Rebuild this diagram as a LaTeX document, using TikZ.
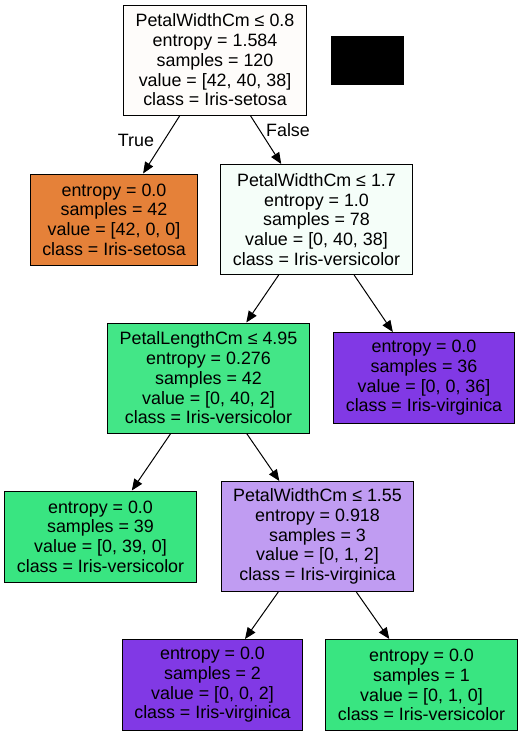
\documentclass[tikz,border=0pt]{standalone}
\usepackage{fontspec}
\setmainfont{Liberation Sans}
\usetikzlibrary{arrows.meta}
\definecolor{rootfill}{RGB}{254,252,250}
\definecolor{setosa}{RGB}{229,129,57}
\definecolor{versifaint}{RGB}{245,254,249}
\definecolor{versidark}{RGB}{67,230,135}
\definecolor{versicolor}{RGB}{57,229,129}
\definecolor{virgihalf}{RGB}{192,156,242}
\definecolor{virginica}{RGB}{129,57,229}
\begin{document}
\begin{tikzpicture}[x=0.75pt,y=-0.75pt,
        box/.style={draw,line width=0.75pt,align=center,inner xsep=9pt,inner ysep=0pt,
                font=\fontsize{13.4pt}{14.8pt}\selectfont},
        split/.style={box,minimum height=82.5pt},
        leaf/.style={box,minimum height=68.25pt},
        edge/.style={line width=0.75pt,-{Triangle[length=8.5pt,width=7pt]}},
        edgelabel/.style={font=\fontsize{13.4pt}{14.8pt}\selectfont}]
        \useasboundingbox (0,0) rectangle (523,736);
        \node[split,fill=rootfill] (root) at (215,60)
                {PetalWidthCm ≤ 0.8\\entropy = 1.584\\samples = 120\\value = [42, 40, 38]\\class = Iris-setosa};
        \node[leaf,fill=setosa] (setosaleaf) at (114,219.5)
                {entropy = 0.0\\samples = 42\\value = [42, 0, 0]\\class = Iris-setosa};
        \node[split,fill=versifaint] (width17) at (316.5,219.5)
                {PetalWidthCm ≤ 1.7\\entropy = 1.0\\samples = 78\\value = [0, 40, 38]\\class = Iris-versicolor};
        \node[split,fill=versidark] (length495) at (208.5,378)
                {PetalLengthCm ≤ 4.95\\entropy = 0.276\\samples = 42\\value = [0, 40, 2]\\class = Iris-versicolor};
        \node[leaf,fill=virginica] (virgleaf36) at (424,378)
                {entropy = 0.0\\samples = 36\\value = [0, 0, 36]\\class = Iris-virginica};
        \node[leaf,fill=versicolor] (versleaf39) at (100.5,536.5)
                {entropy = 0.0\\samples = 39\\value = [0, 39, 0]\\class = Iris-versicolor};
        \node[split,fill=virgihalf] (width155) at (317.5,536.5)
                {PetalWidthCm ≤ 1.55\\entropy = 0.918\\samples = 3\\value = [0, 1, 2]\\class = Iris-virginica};
        \node[leaf,fill=virginica] (virgleaf2) at (212.5,685)
                {entropy = 0.0\\samples = 2\\value = [0, 0, 2]\\class = Iris-virginica};
        \node[leaf,fill=versicolor] (versleaf1) at (421.5,685)
                {entropy = 0.0\\samples = 1\\value = [0, 1, 0]\\class = Iris-versicolor};
        \fill (331,36) rectangle (404,85);

        \draw[edge] (root) -- (setosaleaf);
        \draw[edge] (root) -- (width17);
        \draw[edge] (width17) -- (length495);
        \draw[edge] (width17) -- (virgleaf36);
        \draw[edge] (length495) -- (versleaf39);
        \draw[edge] (length495) -- (width155);
        \draw[edge] (width155) -- (virgleaf2);
        \draw[edge] (width155) -- (versleaf1);
        \node[edgelabel] (truelabel) at (136,140) {True};
        \node[edgelabel] (falselabel) at (288,130) {False};
    \end{tikzpicture}
\end{document}
